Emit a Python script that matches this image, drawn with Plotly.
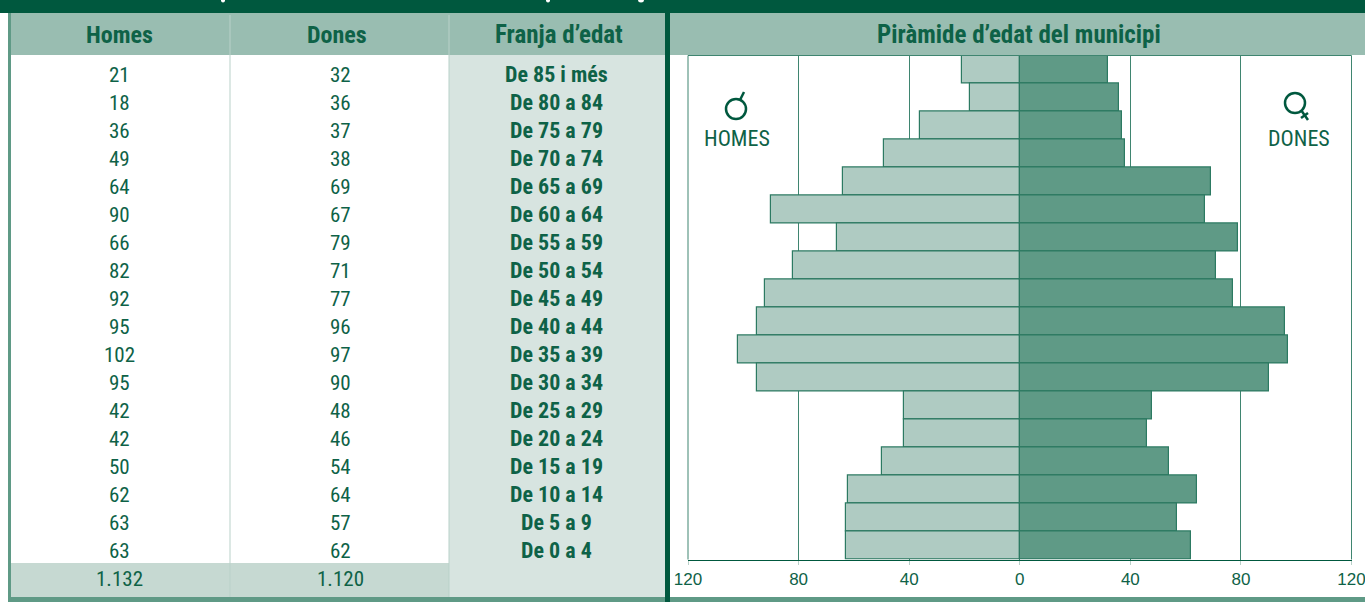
import plotly.graph_objects as go

W, H = 1365, 602
age_labels = ["De 85 i més", "De 80 a 84", "De 75 a 79", "De 70 a 74", "De 65 a 69", "De 60 a 64",
              "De 55 a 59", "De 50 a 54", "De 45 a 49", "De 40 a 44", "De 35 a 39", "De 30 a 34",
              "De 25 a 29", "De 20 a 24", "De 15 a 19", "De 10 a 14", "De 5 a 9", "De 0 a 4"]
homes = [21, 18, 36, 49, 64, 90, 66, 82, 92, 95, 102, 95, 42, 42, 50, 62, 63, 63]
dones = [32, 36, 37, 38, 69, 67, 79, 71, 77, 96, 97, 90, 48, 46, 54, 64, 57, 62]
total_homes = "1.132"
total_dones = "1.120"
headers = ["Homes", "Dones", "Franja d’edat", "Piràmide d’edat del municipi"]
tick_vals = [-120, -80, -40, 0, 40, 80, 120]
tick_text = ["120", "80", "40", "0", "40", "80", "120"]

DARK = "#00583E"
TXT = "#0E6247"
HEAD = "#99BDB1"
MID = "#5F9A86"
LIGHT = "#AFCBC2"
BAND = "#D7E4E0"
TOTAL = "#C6D9D2"
GRID = "#3F8570"
NARROW = "Roboto Condensed"

px = lambda x: x / W
py = lambda y: 1 - y / H


def rect(x0, y0, x1, y1, color, layer="below"):
    return dict(type="rect", xref="paper", yref="paper", x0=px(x0), x1=px(x1), y0=py(y0), y1=py(y1),
                fillcolor=color, line_width=0, layer=layer)


def seg(x0, y0, x1, y1, color, w=1, layer="above"):
    return dict(type="line", xref="paper", yref="paper", x0=px(x0), x1=px(x1), y0=py(y0), y1=py(y1),
                line=dict(color=color, width=w), layer=layer)


def label(x, y, s, size, bold=False, family=NARROW, color=TXT):
    return dict(xref="paper", yref="paper", x=px(x), y=py(y), text=f"<b>{s}</b>" if bold else s,
                showarrow=False, xanchor="center", yanchor="middle",
                font=dict(family=family, size=size, color=color))


def dot(x0, x1, y0, y1, color="white"):
    return dict(type="circle", xref="paper", yref="paper", x0=px(x0), x1=px(x1), y0=py(y0), y1=py(y1),
                fillcolor=color, line_width=0, layer="above")


shapes = [
    rect(0, 0, W, 13, DARK),
    rect(8, 13, W, 55, HEAD),
    rect(449, 55, 665, 597, BAND),
    rect(11, 563, 449, 597, TOTAL),
    rect(8, 13, 11, 602, MID),
    rect(8, 597, W, 602, MID),
    rect(665, 13, 670, 602, DARK, "above"),
    seg(230, 15, 230, 597, "#B9D1C9"),
    seg(449, 15, 449, 597, "#B9D1C9"),
    # restes blanques del títol tallat
    dot(221, 225, -2, 2.5),
    dot(546, 550, -2, 2.5),
    dot(638, 644, -3, 2.5),
    # línies de marc del gràfic
    seg(688, 55.5, 1351.5, 55.5, GRID, 1),
    seg(688, 55.5, 688, 559.5, GRID, 1, "below"),
    seg(1351.5, 55.5, 1351.5, 559.5, GRID, 1, "below"),
    # símbol masculí
    dict(type="circle", xref="paper", yref="paper", x0=px(726), x1=px(746), y0=py(119), y1=py(99),
         line=dict(color=DARK, width=2.5), layer="above"),
    seg(740, 100, 744, 92, DARK, 2.5),
    # símbol femení
    dict(type="circle", xref="paper", yref="paper", x0=px(1285), x1=px(1305), y0=py(113), y1=py(93),
         line=dict(color=DARK, width=2.5), layer="above"),
    seg(1301, 110, 1308, 120, DARK, 2.5),
    seg(1301, 118, 1308, 113, DARK, 2.5),
]

annotations = []
for x, s, size in zip((119, 337, 558.5, 1018.5), headers, (24, 24, 25, 25)):
    annotations.append(label(x, 34.7, s, size, bold=True))
for i in range(18):
    y = 74.7 + 28 * i
    annotations.append(label(119, y, str(homes[i]), 21))
    annotations.append(label(340, y, str(dones[i]), 21))
    annotations.append(label(556.5, y, age_labels[i], 22, bold=True))
annotations.append(label(119, 578.7, total_homes, 21))
annotations.append(label(340, 578.7, total_dones, 21))
annotations.append(label(737, 138.7, "HOMES", 22))
annotations.append(label(1299, 138.7, "DONES", 22))

fig = go.Figure()
bar_line = dict(color="#2C7A62", width=1.2)
fig.add_bar(y=age_labels, x=[-v for v in homes], orientation="h", marker=dict(color=LIGHT, line=bar_line),
            name="Homes", showlegend=False)
fig.add_bar(y=age_labels, x=dones, orientation="h", marker=dict(color=MID, line=bar_line),
            name="Dones", showlegend=False)

fig.update_layout(
    width=W, height=H, margin=dict(l=0, r=0, t=0, b=0, autoexpand=False),
    paper_bgcolor="white", plot_bgcolor="white",
    barmode="overlay", bargap=0,
    shapes=shapes, annotations=annotations,
    xaxis=dict(domain=[px(688), px(1351.5)], range=[-120, 120], tickvals=tick_vals, ticktext=tick_text,
               showgrid=True, gridcolor=GRID, gridwidth=1, zeroline=True, zerolinecolor=GRID, zerolinewidth=1,
               ticks="outside", ticklen=4, tickcolor="#B9D1C9", showline=True, linecolor=DARK, linewidth=1,
               ticklabeloverflow="allow",
               tickfont=dict(family="Liberation Sans", size=17, color=TXT)),
    yaxis=dict(domain=[py(559.5), py(55.5)], autorange="reversed", showticklabels=False, ticks="",
               showgrid=False, zeroline=False, showline=False),
)
fig.write_html("out.html", config=dict(displayModeBar=False),
               post_script="document.body.style.margin='0';document.documentElement.style.overflow='hidden';")
